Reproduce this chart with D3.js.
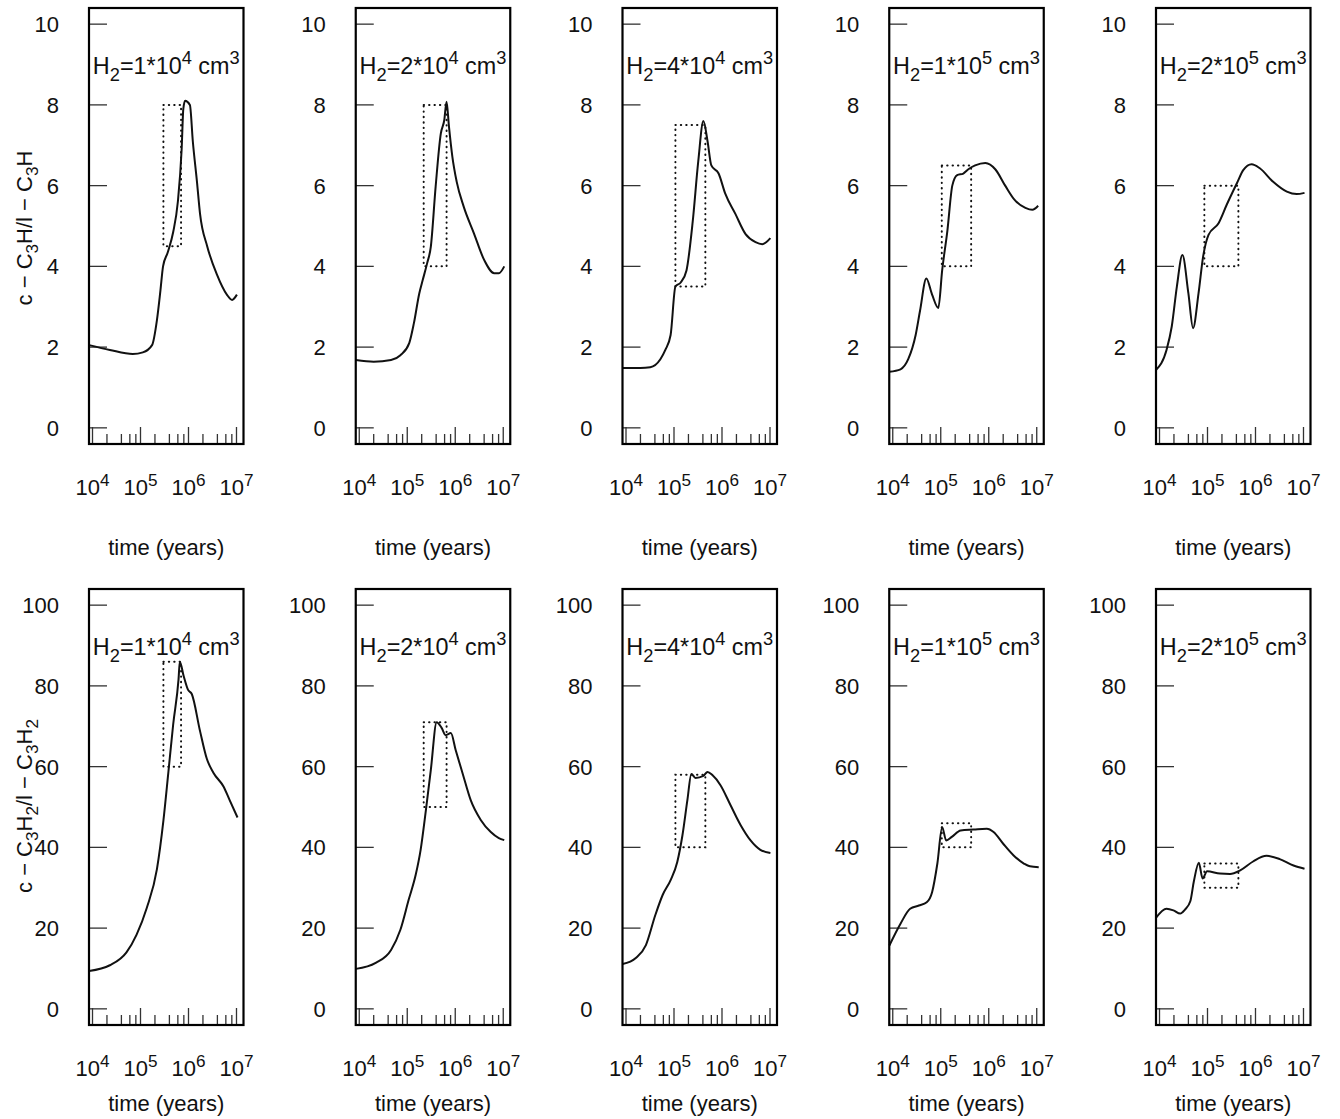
<!DOCTYPE html>
<html>
<head>
<meta charset="utf-8">
<script src="https://cdn.jsdelivr.net/npm/d3@7/dist/d3.min.js"></script>
<style>
  body { margin: 0; background: #fff; }
  svg { display: block; font-family: "Liberation Sans", Arial, Helvetica, sans-serif; }
</style>
</head>
<body>
<svg id="chart" width="1340" height="1119"></svg>
<script>
// panel titles: H2 = mantissa * 10^exponent cm^3
const densityMantissa = [1, 2, 4, 1, 2];
const densityExponent = [4, 4, 4, 5, 5];

const timeTicks = [1e4, 1e5, 1e6, 1e7];
const minorFactors = [2, 4, 6, 8];
const c3hTicks = [0, 2, 4, 6, 8, 10];
const c3h2Ticks = [0, 20, 40, 60, 80, 100];

// ---- top row: c-C3H / l-C3H ----
const c3hTime1 = [8.5e3, 2.3e4, 6.9e4, 1.12e5, 1.74e5, 2.2e5, 2.6e5, 2.95e5, 3.7e5, 4.8e5, 6.0e5, 7.2e5, 7.8e5, 8.5e5, 1.07e6, 1.23e6, 1.5e6, 1.74e6, 2.45e6, 3.9e6, 6.3e6, 8.1e6, 1.02e7];
const c3hRatio1 = [2.05, 1.93, 1.83, 1.87, 2.05, 2.67, 3.4, 4.0, 4.35, 4.85, 5.6, 6.9, 7.9, 8.1, 8.0, 7.1, 6.1, 5.3, 4.5, 3.8, 3.3, 3.17, 3.3];

const c3hTime2 = [8.5e3, 2.0e4, 4.6e4, 7.2e4, 1.1e5, 1.38e5, 1.78e5, 2.1e5, 2.6e5, 3.1e5, 3.9e5, 5.0e5, 5.9e5, 6.6e5, 7.4e5, 8.7e5, 1.07e6, 1.5e6, 2.45e6, 4.0e6, 6.5e6, 8.1e6, 1.05e7];
const c3hRatio2 = [1.68, 1.64, 1.68, 1.8, 2.1, 2.6, 3.33, 3.66, 4.08, 4.49, 5.97, 7.29, 7.62, 8.08, 7.46, 6.72, 6.1, 5.48, 4.82, 4.16, 3.83, 3.83, 4.0];

const c3hTime3 = [8.5e3, 2.0e4, 3.2e4, 5.2e4, 6.6e4, 8.5e4, 1.07e5, 1.38e5, 1.82e5, 2.45e5, 3.2e5, 4.1e5, 5.0e5, 6.0e5, 8.5e5, 1.17e6, 1.9e6, 3.1e6, 5.0e6, 6.9e6, 1.02e7];
const c3hRatio3 = [1.48, 1.48, 1.5, 1.7, 1.93, 2.3, 3.5, 3.6, 3.9, 5.1, 6.6, 7.6, 7.1, 6.5, 6.3, 5.8, 5.3, 4.8, 4.6, 4.55, 4.7];

const c3hTime4 = [8.5e3, 1.45e4, 2.1e4, 3.0e4, 3.7e4, 5.0e4, 6.6e4, 8.9e4, 1.07e5, 1.38e5, 1.74e5, 2.2e5, 2.95e5, 3.7e5, 5.2e5, 8.5e5, 1.38e6, 2.2e6, 3.5e6, 5.8e6, 8.1e6, 1.07e7];
const c3hRatio4 = [1.39, 1.45, 1.7, 2.3, 2.9, 3.7, 3.3, 2.97, 3.9, 4.9, 6.0, 6.26, 6.3, 6.4, 6.5, 6.56, 6.4, 6.0, 5.64, 5.45, 5.4, 5.5];

const c3hTime5 = [8.5e3, 1.4e4, 1.8e4, 2.3e4, 3.0e4, 4.0e4, 5.0e4, 6.5e4, 8.1e4, 1.05e5, 1.7e5, 2.5e5, 4.1e5, 5.6e5, 8.3e5, 1.23e6, 2.3e6, 4.5e6, 7.2e6, 1.05e7];
const c3hRatio5 = [1.44, 1.93, 2.51, 3.5, 4.28, 3.33, 2.47, 3.33, 4.24, 4.78, 5.07, 5.52, 6.06, 6.39, 6.53, 6.43, 6.1, 5.85, 5.79, 5.82];

// dotted boxes (time range, ratio range)
const c3hBoxTime = [[3e5, 7e5], [2.2e5, 6.6e5], [1.07e5, 4.5e5], [1.05e5, 4.3e5], [8.6e4, 4.4e5]];
const c3hBoxRatio = [[4.5, 8], [4, 8], [3.5, 7.5], [4, 6.5], [4, 6]];

// ---- bottom row: c-C3H2 / l-C3H2 ----
const c3h2Time1 = [8.5e3, 2.3e4, 5.1e4, 8.3e4, 1.35e5, 2.2e5, 3.0e5, 3.8e5, 4.8e5, 6.2e5, 6.6e5, 7.9e5, 9.8e5, 1.17e6, 1.74e6, 2.4e6, 3.3e6, 5.4e6, 7.2e6, 1.05e7];
const c3h2Ratio1 = [9.4, 10.8, 14, 18.4, 25, 34.6, 46.6, 58.5, 70.5, 81.6, 86, 82.5, 79, 78, 68.8, 62, 58.5, 55, 51.7, 47.4];

const c3h2Time2 = [8.5e3, 2.2e4, 4.6e4, 7.2e4, 1.07e5, 1.5e5, 1.9e5, 2.45e5, 3.1e5, 4.1e5, 5.2e5, 6.3e5, 8.1e5, 1.02e6, 1.45e6, 2.1e6, 3.4e6, 5.5e6, 8.1e6, 1.05e7];
const c3h2Ratio2 = [9.9, 11.4, 14.6, 19.6, 27, 33.2, 39.4, 49.3, 59.2, 71, 69.6, 67.8, 68.3, 64.1, 58, 51.7, 46.8, 43.8, 42.3, 41.8];

const c3h2Time3 = [8.5e3, 1.6e4, 2.6e4, 4.1e4, 5.8e4, 8.5e4, 1.17e5, 1.5e5, 1.9e5, 2.3e5, 2.8e5, 4.1e5, 5.0e5, 6.3e5, 9.3e5, 1.5e6, 2.45e6, 3.9e6, 6.3e6, 1.02e7];
const c3h2Ratio3 = [11.1, 12.6, 15.8, 23.3, 28.2, 31.9, 36.4, 43, 51.7, 58.2, 57.2, 57.7, 58.7, 57.9, 55.4, 50.5, 45.5, 41.8, 39.4, 38.6];

const c3h2Time4 = [8.5e3, 1.45e4, 2.3e4, 3.5e4, 5.1e4, 6.6e4, 8.5e4, 1.07e5, 1.3e5, 1.7e5, 2.6e5, 4.8e5, 9.1e5, 1.26e6, 2.0e6, 3.3e6, 5.4e6, 7.2e6, 1.1e7];
const c3h2Ratio4 = [15.7, 21.1, 24.8, 25.6, 26.4, 28.9, 36, 45, 41.7, 42.6, 44.2, 44.4, 44.6, 43.8, 40.9, 38, 36, 35.3, 35.1];

const c3h2Time5 = [8.5e3, 1.4e4, 1.95e4, 2.7e4, 3.4e4, 4.4e4, 5.2e4, 6.6e4, 7.9e4, 9.8e4, 1.82e5, 2.95e5, 4.8e5, 8.9e5, 1.7e6, 3.2e6, 6.2e6, 1.05e7];
const c3h2Ratio5 = [22.6, 24.8, 24.4, 23.6, 24.6, 26.7, 31.6, 36.2, 32.3, 34.1, 33.5, 33.4, 34.3, 36.5, 37.9, 37.1, 35.5, 34.7];

const c3h2BoxTime = [[3e5, 7e5], [2.2e5, 6.6e5], [1.07e5, 4.5e5], [1.05e5, 4.3e5], [8.6e4, 4.4e5]];
const c3h2BoxRatio = [[60, 86], [50, 71], [40, 58], [40, 46], [30, 36]];

const rows = [
  {
    top: 8, yDomain: [-0.4, 10.4], ticks: c3hTicks,
    times: [c3hTime1, c3hTime2, c3hTime3, c3hTime4, c3hTime5],
    ratios: [c3hRatio1, c3hRatio2, c3hRatio3, c3hRatio4, c3hRatio5],
    boxTime: c3hBoxTime, boxRatio: c3hBoxRatio,
    yTitle: [['c − C'], ['3', 'sub'], ['H/l − C'], ['3', 'sub'], ['H']],
    yTitleY: 228, tickLabelY: 495, xTitleY: 555
  },
  {
    top: 589, yDomain: [-4, 104], ticks: c3h2Ticks,
    times: [c3h2Time1, c3h2Time2, c3h2Time3, c3h2Time4, c3h2Time5],
    ratios: [c3h2Ratio1, c3h2Ratio2, c3h2Ratio3, c3h2Ratio4, c3h2Ratio5],
    boxTime: c3h2BoxTime, boxRatio: c3h2BoxRatio,
    yTitle: [['c − C'], ['3', 'sub'], ['H'], ['2', 'sub'], ['/l − C'], ['3', 'sub'], ['H'], ['2', 'sub']],
    yTitleY: 806, tickLabelY: 1076, xTitleY: 1111
  }
];

const panelW = 154.5;
const panelH = 436;
const firstLeft = 89;
const panelStep = 266.75;
const fontSize = 22;
const titleSize = 23.4;
const ink = '#111';

const svg = d3.select('#chart');

// text with super/subscripts built from tspans
function richText(sel, parts, size) {
  let shift = 0;
  for (const [str, kind] of parts) {
    const target = kind === 'sup' ? -0.42 * size : kind === 'sub' ? 0.28 * size : 0;
    sel.append('tspan')
      .attr('dy', target - shift)
      .attr('font-size', kind ? size * 0.78 : size)
      .text(str);
    shift = target;
  }
}

function drawPanel(row, i) {
  const left = firstLeft + i * panelStep;
  const g = svg.append('g').attr('transform', `translate(${left},${row.top})`);

  const x = d3.scaleLog().domain([10 ** 3.927, 10 ** 7.146]).range([0, panelW]);
  const y = d3.scaleLinear().domain(row.yDomain).range([panelH, 0]);

  // y ticks (inside, from left edge)
  g.append('g').selectAll('line')
    .data(row.ticks)
    .join('line')
    .attr('x1', 0).attr('x2', 18)
    .attr('y1', (d) => y(d)).attr('y2', (d) => y(d))
    .attr('stroke', '#333').attr('stroke-width', 1.3);

  g.append('g').selectAll('text')
    .data(row.ticks)
    .join('text')
    .attr('x', -30)
    .attr('y', (d) => y(d) + 8)
    .attr('text-anchor', 'end')
    .attr('font-size', fontSize)
    .attr('fill', ink)
    .text((d) => d);

  // x ticks: majors + minors at 2,4,6,8 per decade
  const minors = [];
  for (const t of timeTicks.slice(0, -1)) {
    for (const f of minorFactors) minors.push(t * f);
  }
  g.append('g').selectAll('line')
    .data(timeTicks.map((t) => ({ t, len: 17 })).concat(minors.map((t) => ({ t, len: 10 }))))
    .join('line')
    .attr('x1', (d) => x(d.t)).attr('x2', (d) => x(d.t))
    .attr('y1', panelH).attr('y2', (d) => panelH - d.len)
    .attr('stroke', '#333').attr('stroke-width', 1.3);

  const xLabels = g.append('g').selectAll('text')
    .data(timeTicks)
    .join('text')
    .attr('x', (d) => x(d))
    .attr('y', row.tickLabelY - row.top)
    .attr('text-anchor', 'middle')
    .attr('font-size', fontSize)
    .attr('fill', ink);
  xLabels.each(function (d) {
    richText(d3.select(this), [['10'], [String(Math.round(Math.log10(d))), 'sup']], fontSize);
  });

  g.append('text')
    .attr('x', panelW / 2)
    .attr('y', row.xTitleY - row.top)
    .attr('text-anchor', 'middle')
    .attr('font-size', fontSize)
    .attr('fill', ink)
    .text('time (years)');

  // dotted box
  const bt = row.boxTime[i];
  const br = row.boxRatio[i];
  g.append('rect')
    .attr('x', x(bt[0]))
    .attr('y', y(br[1]))
    .attr('width', x(bt[1]) - x(bt[0]))
    .attr('height', y(br[0]) - y(br[1]))
    .attr('fill', 'none')
    .attr('stroke', '#111')
    .attr('stroke-width', 2)
    .attr('stroke-linecap', 'round')
    .attr('stroke-dasharray', '0.4 5');

  // model curve
  const pts = row.times[i].map((t, k) => [t, row.ratios[i][k]]);
  g.append('path')
    .datum(pts)
    .attr('fill', 'none')
    .attr('stroke', '#111')
    .attr('stroke-width', 2)
    .attr('stroke-linejoin', 'round')
    .attr('d', d3.line().x((d) => x(d[0])).y((d) => y(d[1])).curve(d3.curveMonotoneX));

  // title
  const title = g.append('text')
    .attr('x', panelW / 2)
    .attr('y', 66)
    .attr('text-anchor', 'middle')
    .attr('font-size', titleSize)
    .attr('fill', ink);
  richText(title, [
    ['H'], ['2', 'sub'], [`=${densityMantissa[i]}*10`], [String(densityExponent[i]), 'sup'],
    [' cm'], ['3', 'sup']
  ], titleSize);

  // frame
  g.append('rect')
    .attr('width', panelW).attr('height', panelH)
    .attr('fill', 'none').attr('stroke', '#000').attr('stroke-width', 2.2);
}

for (const row of rows) {
  for (let i = 0; i < 5; i++) drawPanel(row, i);

  const t = svg.append('text')
    .attr('transform', `translate(32,${row.yTitleY}) rotate(-90)`)
    .attr('text-anchor', 'middle')
    .attr('font-size', fontSize)
    .attr('fill', ink);
  richText(t, row.yTitle, fontSize);
}
</script>
</body>
</html>
